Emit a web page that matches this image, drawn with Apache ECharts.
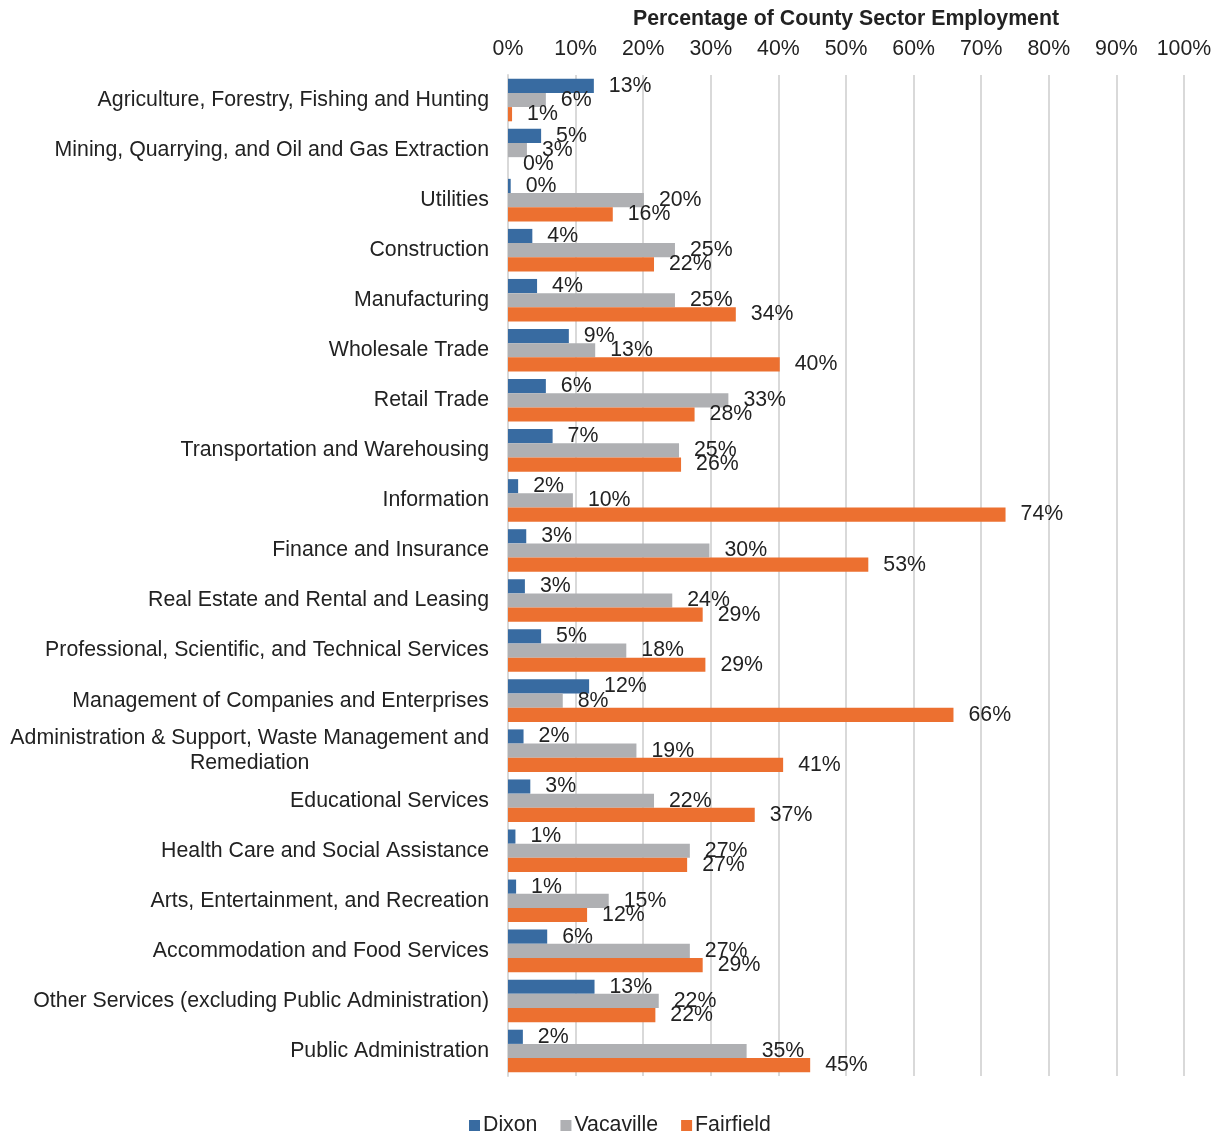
<!DOCTYPE html>
<html>
<head>
<meta charset="utf-8">
<script src="https://cdn.jsdelivr.net/npm/echarts@6/dist/echarts.min.js"></script>
<style>html,body{margin:0;padding:0;background:#fff}#c{width:1219px;height:1135px}</style>
</head>
<body>
<div id="c"></div>
<script>
const categories = [
  "Agriculture, Forestry, Fishing and Hunting",
  "Mining, Quarrying, and Oil and Gas Extraction",
  "Utilities",
  "Construction",
  "Manufacturing",
  "Wholesale Trade",
  "Retail Trade",
  "Transportation and Warehousing",
  "Information",
  "Finance and Insurance",
  "Real Estate and Rental and Leasing",
  "Professional, Scientific, and Technical Services",
  "Management of Companies and Enterprises",
  "Administration & Support, Waste Management and\nRemediation",
  "Educational Services",
  "Health Care and Social Assistance",
  "Arts, Entertainment, and Recreation",
  "Accommodation and Food Services",
  "Other Services (excluding Public Administration)",
  "Public Administration"
];
const dixon =     [12.7, 4.9, 0.4, 3.6, 4.3, 9.0, 5.6, 6.6, 1.5, 2.7, 2.5, 4.9, 12.0, 2.3, 3.3, 1.1, 1.2, 5.8, 12.8, 2.2];
const vacaville = [5.6, 2.8, 20.1, 24.7, 24.7, 12.9, 32.6, 25.3, 9.6, 29.8, 24.3, 17.5, 8.1, 19.0, 21.6, 26.9, 14.9, 26.9, 22.3, 35.3];
const fairfield = [0.6, 0.0, 15.5, 21.6, 33.7, 40.2, 27.6, 25.6, 73.6, 53.3, 28.8, 29.2, 65.9, 40.7, 36.5, 26.5, 11.7, 28.8, 21.8, 44.7];
const seriesNames = ["Dixon", "Vacaville", "Fairfield"];
const xTicks = [0, 10, 20, 30, 40, 50, 60, 70, 80, 90, 100];

const FONT = '"Liberation Sans", Arial, sans-serif';
const TXT = '#222222';
const FS = 21.3;
const colors = ['#386BA1', '#AFB0B3', '#EC7030'];

const chart = echarts.init(document.getElementById('c'));
const mk = (name, data, i) => ({
  name, type: 'bar', data,
  barGap: '0%', barCategoryGap: '15%',
  itemStyle: { color: colors[i] },
  label: {
    show: true, position: 'right', distance: 15,
    fontFamily: FONT, fontSize: FS, color: TXT,
    formatter: p => Math.round(p.value) + '%'
  }
});
chart.setOption({
  animation: false,
  textStyle: { fontFamily: FONT },
  grid: { left: 508, right: 35, top: 75, bottom: 59, containLabel: false, outerBoundsMode: 'none' },
  xAxis: {
    type: 'value', position: 'top', min: xTicks[0], max: xTicks[xTicks.length - 1], interval: 10,
    name: 'Percentage of County Sector Employment', nameLocation: 'middle', nameGap: 45,
    nameTextStyle: { fontFamily: FONT, fontSize: 21.3, fontWeight: 'bold', color: TXT },
    axisLine: { show: false }, axisTick: { show: false },
    axisLabel: { fontFamily: FONT, fontSize: FS, color: TXT, margin: 15, formatter: '{value}%' },
    splitLine: { show: true, lineStyle: { color: '#D9D9D9', width: 2 } }
  },
  yAxis: {
    type: 'category', data: categories, inverse: true,
    axisLine: { show: true, lineStyle: { color: '#D9D9D9', width: 2 } },
    axisTick: { show: false },
    axisLabel: {
      fontFamily: FONT, fontSize: FS, color: TXT, margin: 19, lineHeight: 25,
      formatter: v => v.indexOf('\n') >= 0 ? v.split('\n').map(s => '{c|' + s + '}').join('\n') : v,
      rich: { c: { fontFamily: FONT, fontSize: FS, color: TXT, align: 'center', lineHeight: 25 } }
    }
  },
  legend: {
    top: 1115, left: 469, itemWidth: 11, itemHeight: 11, itemGap: 23,
    padding: 0,
    icon: 'rect',
    textStyle: { fontFamily: FONT, fontSize: FS, color: TXT, padding: [0, 0, 0, -2] },
    data: seriesNames
  },
  series: [mk(seriesNames[0], dixon, 0), mk(seriesNames[1], vacaville, 1), mk(seriesNames[2], fairfield, 2)]
});
</script>
</body>
</html>
